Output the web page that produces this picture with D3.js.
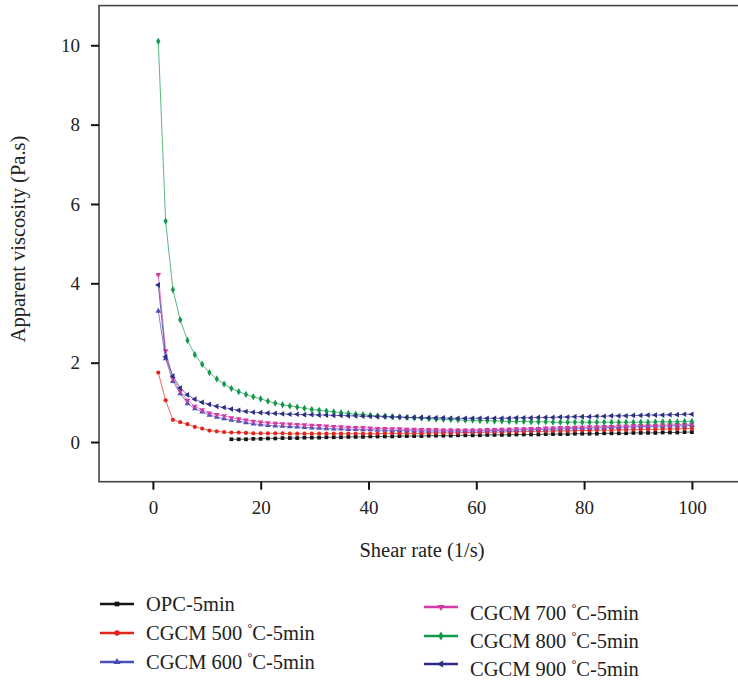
<!DOCTYPE html>
<html><head><meta charset="utf-8">
<script src="https://cdn.jsdelivr.net/npm/d3@7"></script>
<style>body{margin:0;background:#fff}svg{display:block}text{font-family:"Liberation Serif","DejaVu Serif",serif;fill:#222}</style>
</head><body><svg id="c" width="738" height="688"></svg>
<script>
const shearRate = [1.00,2.36,3.71,5.07,6.42,7.78,9.14,10.49,11.85,13.21,14.56,15.92,17.27,18.63,19.99,21.34,22.70,24.05,25.41,26.77,28.12,29.48,30.84,32.19,33.55,34.90,36.26,37.62,38.97,40.33,41.68,43.04,44.40,45.75,47.11,48.47,49.82,51.18,52.53,53.89,55.25,56.60,57.96,59.32,60.67,62.03,63.38,64.74,66.10,67.45,68.81,70.16,71.52,72.88,74.23,75.59,76.95,78.30,79.66,81.01,82.37,83.73,85.08,86.44,87.79,89.15,90.51,91.86,93.22,94.58,95.93,97.29,98.64,100.00];
const opcRate = shearRate.slice(10);
const opc = [0.07,0.07,0.07,0.08,0.08,0.09,0.09,0.10,0.10,0.10,0.11,0.11,0.11,0.12,0.12,0.12,0.13,0.13,0.13,0.14,0.14,0.14,0.14,0.15,0.15,0.15,0.15,0.16,0.16,0.16,0.16,0.17,0.17,0.17,0.17,0.18,0.18,0.18,0.18,0.19,0.19,0.19,0.19,0.20,0.20,0.20,0.20,0.21,0.21,0.21,0.21,0.22,0.22,0.22,0.22,0.23,0.23,0.23,0.23,0.24,0.24,0.24,0.25,0.25];
const cgcm500 = [1.75,1.05,0.56,0.50,0.45,0.38,0.34,0.29,0.27,0.25,0.24,0.24,0.23,0.22,0.22,0.22,0.22,0.22,0.21,0.21,0.21,0.21,0.21,0.21,0.21,0.21,0.21,0.21,0.21,0.21,0.21,0.22,0.22,0.22,0.22,0.22,0.22,0.23,0.23,0.23,0.23,0.23,0.24,0.24,0.24,0.25,0.25,0.25,0.26,0.26,0.26,0.27,0.27,0.27,0.28,0.28,0.28,0.29,0.29,0.29,0.30,0.30,0.30,0.31,0.31,0.31,0.32,0.32,0.32,0.33,0.33,0.33,0.34,0.34];
const cgcm600 = [3.30,2.10,1.53,1.22,0.97,0.84,0.76,0.68,0.63,0.59,0.55,0.53,0.49,0.46,0.44,0.42,0.41,0.40,0.39,0.38,0.37,0.36,0.35,0.34,0.33,0.33,0.32,0.32,0.31,0.31,0.30,0.30,0.29,0.29,0.29,0.28,0.28,0.28,0.28,0.28,0.28,0.28,0.28,0.28,0.28,0.29,0.29,0.29,0.30,0.30,0.31,0.31,0.32,0.32,0.33,0.33,0.34,0.34,0.35,0.35,0.36,0.36,0.37,0.37,0.38,0.38,0.39,0.39,0.40,0.40,0.41,0.41,0.41,0.42];
const cgcm700 = [4.22,2.30,1.60,1.28,1.05,0.90,0.81,0.73,0.69,0.66,0.61,0.58,0.55,0.52,0.50,0.48,0.47,0.46,0.45,0.44,0.43,0.42,0.41,0.40,0.39,0.38,0.37,0.36,0.36,0.35,0.34,0.34,0.33,0.33,0.32,0.32,0.31,0.31,0.31,0.30,0.30,0.30,0.30,0.30,0.30,0.31,0.31,0.32,0.32,0.33,0.33,0.34,0.34,0.35,0.35,0.36,0.36,0.37,0.37,0.38,0.38,0.39,0.39,0.40,0.40,0.41,0.41,0.42,0.42,0.43,0.43,0.44,0.44,0.45];
const cgcm800 = [10.10,5.57,3.84,3.08,2.56,2.20,1.96,1.75,1.59,1.46,1.35,1.27,1.20,1.14,1.09,1.03,0.98,0.94,0.91,0.88,0.85,0.82,0.80,0.78,0.76,0.74,0.72,0.70,0.69,0.67,0.66,0.65,0.64,0.63,0.62,0.61,0.60,0.59,0.58,0.57,0.57,0.56,0.55,0.55,0.54,0.54,0.53,0.53,0.52,0.52,0.52,0.51,0.51,0.51,0.50,0.50,0.50,0.50,0.50,0.50,0.50,0.50,0.50,0.50,0.50,0.50,0.50,0.50,0.51,0.51,0.51,0.51,0.52,0.52];
const cgcm900 = [3.96,2.15,1.66,1.36,1.19,1.08,1.00,0.95,0.90,0.87,0.83,0.80,0.77,0.75,0.74,0.73,0.72,0.71,0.70,0.70,0.69,0.69,0.68,0.68,0.67,0.67,0.66,0.66,0.65,0.65,0.64,0.64,0.63,0.63,0.62,0.62,0.62,0.61,0.61,0.61,0.60,0.60,0.60,0.60,0.60,0.60,0.60,0.60,0.60,0.61,0.61,0.61,0.62,0.62,0.62,0.63,0.63,0.64,0.64,0.64,0.65,0.65,0.66,0.66,0.66,0.67,0.67,0.68,0.68,0.68,0.69,0.69,0.70,0.70];
const seriesNames = ["OPC-5min","CGCM 500 °C-5min","CGCM 600 °C-5min","CGCM 700 °C-5min","CGCM 800 °C-5min","CGCM 900 °C-5min"];
const xTicks = [0,20,40,60,80,100];
const yTicks = [0,2,4,6,8,10];

const series = [
  {name:seriesNames[0], x:opcRate, y:opc, color:"#151515", sym:"square"},
  {name:seriesNames[1], x:shearRate, y:cgcm500, color:"#e2261c", sym:"circle"},
  {name:seriesNames[2], x:shearRate, y:cgcm600, color:"#4a4fb8", sym:"up"},
  {name:seriesNames[3], x:shearRate, y:cgcm700, color:"#d43aa6", sym:"down"},
  {name:seriesNames[4], x:shearRate, y:cgcm800, color:"#12994a", sym:"diamond"},
  {name:seriesNames[5], x:shearRate, y:cgcm900, color:"#2d2e85", sym:"left"}
];

const svg = d3.select("#c");
const x = d3.scaleLinear().domain([-10,110]).range([99,745.8]);
const y = d3.scaleLinear().domain([-1,11]).range([481.7,5.6]);

function symPath(s, size){
  if(s==="square") return d3.symbol(d3.symbolSquare, size)();
  if(s==="circle") return d3.symbol(d3.symbolCircle, size)();
  if(s==="diamond") return d3.symbol(d3.symbolDiamond, size*1.1)();
  return d3.symbol(d3.symbolTriangle, size)();
}
function symRot(s){ return s==="down"?180:(s==="left"?-90:0); }

// frame
svg.append("rect").attr("x",x(-10)).attr("y",y(11)).attr("width",x(110)-x(-10)).attr("height",y(-1)-y(11))
  .attr("fill","none").attr("stroke","#444").attr("stroke-width",1.6);

// axes
const xAxis = svg.append("g").attr("transform",`translate(0,${y(-1)})`)
  .call(d3.axisBottom(x).tickValues(xTicks).tickSize(8).tickPadding(11).tickFormat(d3.format("d")));
const yAxis = svg.append("g").attr("transform",`translate(${x(-10)},0)`)
  .call(d3.axisLeft(y).tickValues(yTicks).tickSize(8).tickPadding(11).tickFormat(d3.format("d")));
[xAxis,yAxis].forEach(g=>{
  g.select(".domain").remove();
  g.selectAll(".tick line").attr("stroke","#111").attr("stroke-width",2);
  g.selectAll(".tick text").style("font-family","'Liberation Serif',serif").style("font-size","19px").attr("fill","#222");
});

// lines and markers
const line = d3.line();
series.forEach(s=>{
  const pts = s.x.map((v,i)=>[x(v), y(s.y[i])]);
  svg.append("path").attr("d",line(pts)).attr("fill","none").attr("stroke",s.color).attr("stroke-width",1).attr("stroke-opacity",0.7);
  svg.append("g").selectAll("path").data(pts).join("path")
    .attr("d",symPath(s.sym,14))
    .attr("transform",d=>`translate(${d[0]},${d[1]}) rotate(${symRot(s.sym)})`)
    .attr("fill",s.color);
});

// axis titles
svg.append("text").attr("x",422).attr("y",557).attr("text-anchor","middle").style("font-size","20.5px").text("Shear rate (1/s)");
svg.append("text").attr("transform","translate(25,239) rotate(-90)").attr("text-anchor","middle").style("font-size","20.5px").text("Apparent viscosity (Pa.s)");

// legend
const legendPos = [[100,604],[100,633],[100,662],[424,607],[424,636],[424,664]];
const textDy = [6.5,6.5,6.5,12.5,11.5,11.5];
series.forEach((s,i)=>{
  const [lx,ly] = legendPos[i];
  const g = svg.append("g");
  g.append("line").attr("x1",lx).attr("x2",lx+34).attr("y1",ly).attr("y2",ly).attr("stroke",s.color).attr("stroke-width",2.5);
  g.append("path").attr("d",symPath(s.sym,22)).attr("transform",`translate(${lx+17},${ly}) rotate(${symRot(s.sym)})`).attr("fill",s.color);
  const t = g.append("text").attr("x",lx+46).attr("y",ly+textDy[i]).style("font-size","20.5px");
  const parts = s.name.split("°");
  if(parts.length===2){
    t.append("tspan").text(parts[0]);
    t.append("tspan").attr("dy",-8).style("font-size","12px").text("°");
    t.append("tspan").attr("dy",8).text(parts[1]);
  } else t.text(s.name);
});
</script></body></html>
